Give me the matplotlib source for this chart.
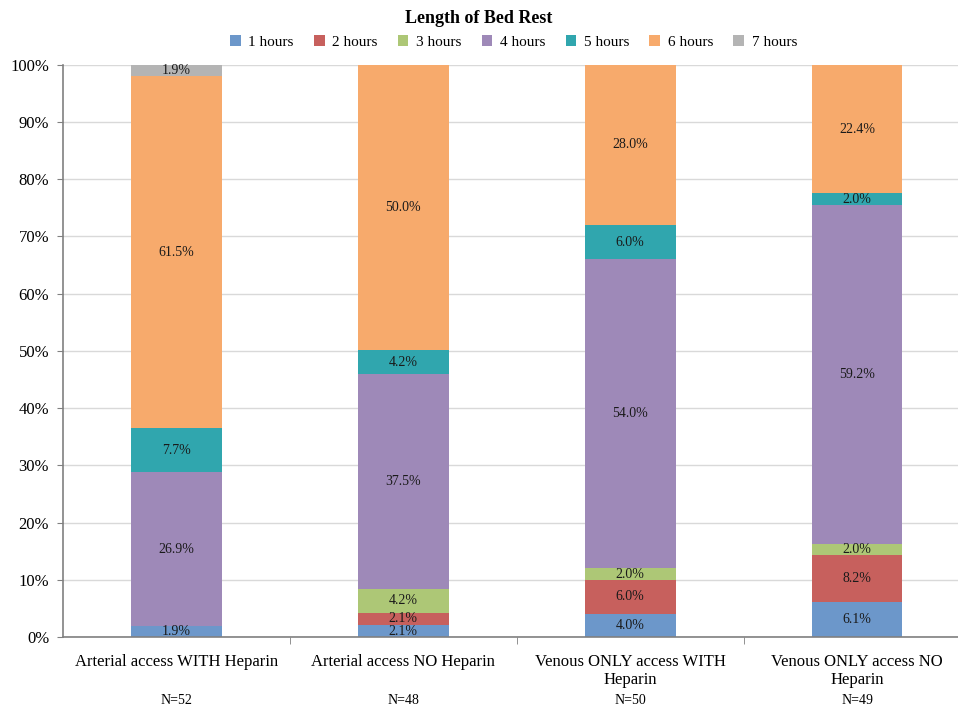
import numpy as np
import matplotlib.pyplot as plt
from matplotlib.ticker import FixedLocator

plt.rcParams['font.family'] = ['Liberation Serif', 'DejaVu Serif']

groups = ['Arterial access WITH Heparin', 'Arterial access NO Heparin',
          'Venous ONLY access WITH\nHeparin', 'Venous ONLY access NO\nHeparin']
n_labels = ['N=52', 'N=48', 'N=50', 'N=49']
series = ['1 hours', '2 hours', '3 hours', '4 hours', '5 hours', '6 hours', '7 hours']

h1 = [1.9, 2.1, 4.0, 6.1]
h2 = [0.0, 2.1, 6.0, 8.2]
h3 = [0.0, 4.2, 2.0, 2.0]
h4 = [26.9, 37.5, 54.0, 59.2]
h5 = [7.7, 4.2, 6.0, 2.0]
h6 = [61.5, 50.0, 28.0, 22.4]
h7 = [1.9, 0.0, 0.0, 0.0]

colors = ['#6c97ca', '#c7605d', '#adc776', '#9e89b8', '#30a6ae', '#f7aa6c', '#b4b4b4']

fig = plt.figure(figsize=(9.58, 7.06), dpi=100)
ax = fig.add_axes([0.0658, 0.0977, 0.9342, 0.8107])

x = np.arange(len(groups))
bottom = np.zeros(len(groups))
for name, vals, c in zip(series, [h1, h2, h3, h4, h5, h6, h7], colors):
    vals = np.array(vals)
    ax.bar(x, vals, 0.4, bottom=bottom, color=c, label=name, zorder=2)
    for xi, b, v in zip(x, bottom, vals):
        if v > 0:
            ax.text(xi, b + v / 2, '%.1f%%' % v, ha='center', va='center',
                    fontsize=10, color='#1a1a1a', zorder=3)
    bottom += vals

ax.set_ylim(0, 100)
ax.set_xlim(-0.5, 3.445)
ax.set_yticks(np.arange(0, 101, 10))
ax.set_yticklabels(['%d%%' % v for v in range(0, 101, 10)], fontsize=12)
ax.yaxis.grid(True, color='#d9d9d9', linewidth=1, zorder=0)
ax.tick_params(axis='y', length=4, color='#808080', pad=6)

ax.set_xticks(x)
ax.set_xticklabels(groups, fontsize=12, linespacing=1.2)
ax.tick_params(axis='x', which='major', length=0, pad=12)
ax.xaxis.set_minor_locator(FixedLocator([0.5, 1.5, 2.5]))
ax.tick_params(axis='x', which='minor', length=5, color='#808080')

for s in ['top', 'right']:
    ax.spines[s].set_visible(False)
for s in ['left', 'bottom']:
    ax.spines[s].set_color('#808080')
    ax.spines[s].set_linewidth(1.2)

for xi, n in zip(x, n_labels):
    ax.text(xi, -0.1117, n, transform=ax.get_xaxis_transform(), ha='center',
            va='center', fontsize=10)

fig.text(0.5, 0.974, 'Length of Bed Rest', ha='center', va='center',
         fontsize=13, fontweight='bold')
ax.legend(loc='center', bbox_to_anchor=(0.536, 0.941), bbox_transform=fig.transFigure,
          ncol=7, frameon=False, fontsize=11, handlelength=0.7, handleheight=0.7,
          handletextpad=0.5, columnspacing=1.32)

fig.savefig('out.png', dpi=100)
